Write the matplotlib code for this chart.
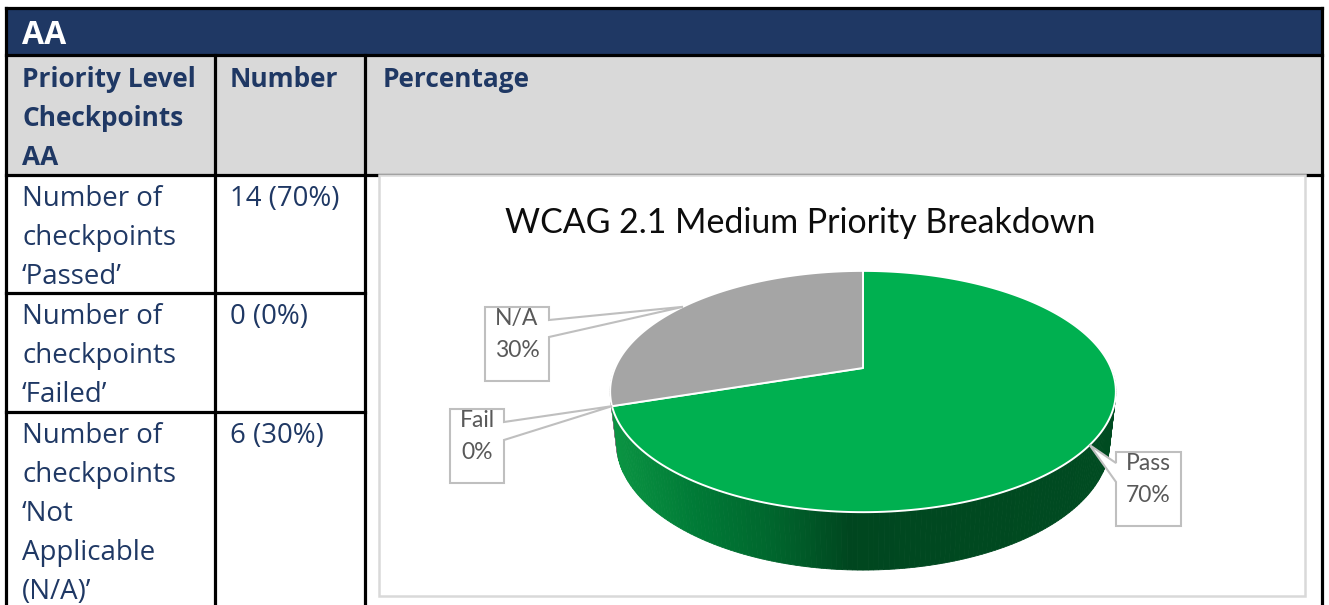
import numpy as np
import matplotlib.pyplot as plt
from matplotlib.patches import Rectangle, Polygon
from matplotlib.colors import LinearSegmentedColormap

# table content
header_title = "AA"
col_headers = [["Priority Level", "Checkpoints", "AA"], ["Number"], ["Percentage"]]
row_labels = [
    ["Number of", "checkpoints", "\u2018Passed\u2019"],
    ["Number of", "checkpoints", "\u2018Failed\u2019"],
    ["Number of", "checkpoints", "\u2018Not", "Applicable", "(N/A)\u2019"],
]
row_numbers = ["14 (70%)", "0 (0%)", "6 (30%)"]

# pie chart data
chart_title = "WCAG 2.1 Medium Priority Breakdown"
slice_labels = ["Pass", "Fail", "N/A"]
slice_values = [14, 0, 6]
slice_colors = ["#00B050", "#FFC000", "#A5A5A5"]

NAVY = "#1F3864"
GRAY = "#D9D9D9"
body_font = "Open Sans"
chart_font = "Lato"

fig = plt.figure(figsize=(13.29, 6.05), dpi=100)
ax = fig.add_axes([0, 0, 1, 1])
ax.set_xlim(0, 1329)
ax.set_ylim(605, 0)
ax.axis("off")

# ---- table background + grid ----
L, R, T = 6, 1322, 8
ax.add_patch(Rectangle((L, T), R - L, 55 - T, color=NAVY, zorder=1))
ax.add_patch(Rectangle((L, 55), R - L, 175 - 55, color=GRAY, zorder=1))

lw = 2.3
for y in [T, 55, 175]:
    ax.plot([L, R], [y, y], color="black", lw=lw, zorder=2)
for y in [293, 412]:
    ax.plot([L, 365], [y, y], color="black", lw=lw, zorder=2)
for x in [L, R]:
    ax.plot([x, x], [T, 605], color="black", lw=lw, zorder=2)
for x in [215, 365]:
    ax.plot([x, x], [55, 605], color="black", lw=lw, zorder=2)

ax.text(22, 44, header_title, color="white", fontsize=23, fontweight="bold",
        family=body_font, va="baseline", zorder=5)
col_x = [22, 230, 383]
for cx, lines in zip(col_x, col_headers):
    for i, line in enumerate(lines):
        ax.text(cx, 87 + 39 * i, line, color=NAVY, fontsize=18.9, fontweight="bold",
                family=body_font, va="baseline", zorder=5)

row_top = [206, 324, 443]
for y0, lines, num in zip(row_top, row_labels, row_numbers):
    for i, line in enumerate(lines):
        ax.text(22, y0 + 39 * i, line, color=NAVY, fontsize=19.9,
                family=body_font, va="baseline", zorder=5)
    ax.text(230, y0, num, color=NAVY, fontsize=19.9, family=body_font,
            va="baseline", zorder=5)

# ---- chart area ----
ax.add_patch(Rectangle((379, 175), 1305 - 379, 596 - 175, facecolor="white",
                       edgecolor="#D9D9D9", lw=1.8, zorder=3))
ax.text(800, 233, chart_title, ha="center", va="baseline", fontsize=24.4,
        family=chart_font, color="#0D0D0D", zorder=6)

# 3D pie via a simple perspective projection
CX, CY, S = 863, 368, 248
elev = np.radians(27.9)
se, ce = np.sin(elev), np.cos(elev)
D = 4.53
depth = 0.235


def proj(theta, z):
    t = np.radians(theta)
    X, Y = np.cos(t), np.sin(t)
    w = Y * ce - z * se
    v = Y * se + z * ce
    f = D / (D + w)
    return CX + S * X * f, CY - S * v * f


total = sum(slice_values)
fracs = [v / total for v in slice_values]
starts, ends = [], []
a = 90.0
for fr in fracs:
    starts.append(a)
    a -= fr * 360
    ends.append(a)

side_cmap = LinearSegmentedColormap.from_list(
    "side", ["#0A9342", "#007A36", "#00662D", "#00461F", "#004B21"],
)


def slice_of(theta):
    th = (theta - 90) % 360 - 360
    for i in range(len(fracs)):
        s_, e_ = starts[i] - 90, ends[i] - 90
        if e_ <= th <= s_ and fracs[i] > 0:
            return i
    return len(fracs) - 1


# side wall (front half)
thetas = np.arange(180, 361, 1.0)
for t0, t1 in zip(thetas[:-1], thetas[1:]):
    tm = (t0 + t1) / 2
    p = [proj(t0, 0), proj(t1, 0), proj(t1, -depth), proj(t0, -depth)]
    idx = slice_of(tm)
    if slice_labels[idx] == "Pass":
        xm = (p[0][0] - (CX - S)) / (2 * S)
        col = side_cmap(np.clip(xm * 1.6 if xm < 0.5 else 0.8 + (xm - 0.5) * 0.4, 0, 1))
    else:
        col = "#7A7A7A"
    ax.add_patch(Polygon(p, closed=True, facecolor=col, edgecolor=col, lw=0.6, zorder=7))

# top faces
for i, fr in enumerate(fracs):
    if fr <= 0:
        continue
    ts = np.linspace(starts[i], ends[i], 200)
    pts = [(CX, CY)] + [proj(t, 0) for t in ts]
    ax.add_patch(Polygon(pts, closed=True, facecolor=slice_colors[i],
                         edgecolor="white", lw=1.4, joinstyle="round", zorder=8))

# data labels with wedge callouts
boxes = {
    "N/A": dict(box=(485, 307, 64, 74), side="right", base=(320, 337)),
    "Fail": dict(box=(450, 409, 54, 74), side="right", base=(422, 440)),
    "Pass": dict(box=(1116, 452, 65, 74), side="left", base=(463, 482)),
}
for i, lab in enumerate(slice_labels):
    mid = (starts[i] + ends[i]) / 2
    tip = proj(mid, 0)
    b = boxes[lab]
    x0, y0, w, h = b["box"]
    ya, yb = b["base"]
    if b["side"] == "right":
        pts = [(x0, y0), (x0 + w, y0), (x0 + w, ya), tip, (x0 + w, yb),
               (x0 + w, y0 + h), (x0, y0 + h)]
    else:
        pts = [(x0, y0), (x0 + w, y0), (x0 + w, y0 + h), (x0, y0 + h),
               (x0, yb), tip, (x0, ya)]
    ax.add_patch(Polygon(pts, closed=True, facecolor="white", edgecolor="#BFBFBF",
                         lw=1.5, zorder=9))
    pct = round(100 * fracs[i])
    ax.text(x0 + w / 2, y0 + 18, lab, ha="center", va="baseline", fontsize=16.5,
            family=chart_font, color="#595959", zorder=10)
    ax.text(x0 + w / 2, y0 + 50, f"{pct}%", ha="center", va="baseline", fontsize=16.5,
            family=chart_font, color="#595959", zorder=10)

fig.savefig("out.png", dpi=100, facecolor="white")
